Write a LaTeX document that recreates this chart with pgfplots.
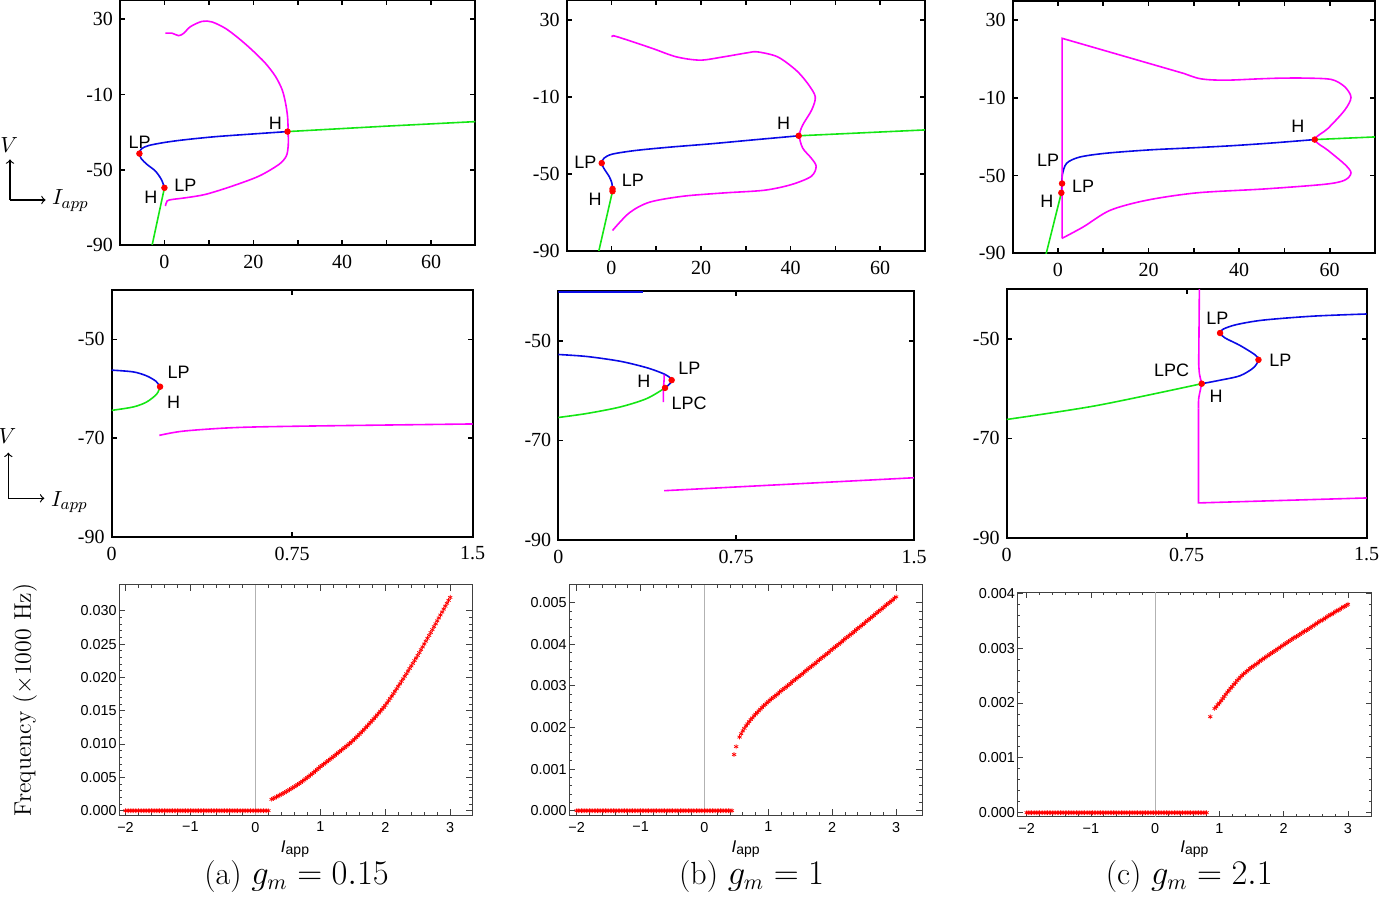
\documentclass[border=0pt]{standalone}
\usepackage{pgfplots}
\pgfplotsset{compat=1.18}
\usepackage{fontspec}
\newfontfamily\timesfont{Liberation Serif}
\newfontfamily\arialfont{Liberation Sans}
\definecolor{mygreen}{RGB}{20,230,20}
\definecolor{myblue}{RGB}{10,10,230}
\definecolor{mymag}{RGB}{255,0,255}
\pgfplotsset{
  bifbase/.style={
    scale only axis, anchor=south west,
    axis line style={line width=1pt},
    tick style={black, line width=0.8pt},
    tick align=inside, major tick length=2.5pt,
    ticklabel style={font=\timesfont\fontsize{10}{12}\selectfont},
    xticklabel style={yshift=-1.5pt},
  },
  toprow/.style={bifbase, xmin=-10, xmax=70, ymin=-90, ymax=40,
    xtick={0,10,20,30,40,50,60}, xticklabels={0,,20,,40,,60},
    ytick={-90,-50,-10,30}, yticklabels={-90,-50,-10,30}},
  midrow/.style={bifbase, xmin=0, xmax=1.5, ymin=-90, ymax=-40,
    xtick={0,0.75,1.5}, xticklabels={0,0.75,1.5},
    ytick={-90,-70,-50}, yticklabels={-90,-70,-50}},
  freq/.style={scale only axis, anchor=south west,
    axis line style={line width=0.5pt, black!75},
    tick style={black!75, line width=0.4pt},
    tick align=inside, major tick length=3pt, minor tick length=1.5pt,
    ticklabel style={font=\arialfont\fontsize{7.2}{8.5}\selectfont},
    yticklabel style={inner sep=1pt},
    xtick={-2,-1,0,1,2,3}, xticklabels={−2,−1,0,1,2,3},
    minor x tick num=4, minor y tick num=4,
    scaled y ticks=false,
    extra x ticks={0}, extra x tick labels={},
    extra x tick style={grid=major, major tick length=0pt},
    major grid style={gray!60, line width=0.6pt},
  },
  bl/.style={myblue, line width=0.8pt},
  gr/.style={mygreen, line width=0.8pt},
  mg/.style={mymag, line width=0.8pt},
  dots/.style={only marks, mark=*, mark size=1.4pt, red},
  stars/.style={only marks, mark=asterisk, mark size=1.2pt, red, mark options={line width=0.35pt}},
}
\newcommand{\lab}{\arialfont\fontsize{9}{10}\selectfont}
\begin{document}
\begin{tikzpicture}
\useasboundingbox (0,0) rectangle (691pt,-448.5pt);
% ---------------- top row ----------------
\begin{axis}[toprow, at={(60pt,-122.5pt)}, width=177.75pt, height=122.25pt]
\addplot[gr] coordinates {(-2.9,-91.5) (0,-59.6)};
\addplot[bl, smooth] coordinates {(0,-59.6) (-0.68,-55.2) (-2.03,-50.7) (-3.9,-47.2) (-5.18,-44.2) (-5.63,-41.4) (-5.18,-38.9) (-3.53,-37.1) (0.23,-35.4) (4.73,-34.0) (11.5,-32.4) (19.7,-31.0) (27.7,-29.7)};
\addplot[gr] coordinates {(27.7,-29.7) (50,-26.8) (70,-24.4)};
\addplot[mg, smooth] coordinates {(0.23,22.6) (1.73,22.6) (3.2,21.3) (4.35,22.6) (5.86,26.1) (8.48,28.9) (10.7,28.6) (13.7,25.2) (16.7,19.9) (19.7,13.7) (22.7,6.7) (25.0,-0.4) (26.5,-7.5) (27.25,-14.5) (27.7,-21.6) (27.85,-29.7) (27.85,-37.5) (27.4,-42.8) (25.75,-47.2) (21.25,-53.4) (15.24,-58.7) (9.23,-63.1) (4.73,-64.9) (1.73,-65.8) (0.6,-66.6) (0.23,-69.3)};
\addplot[dots] coordinates {(-5.63,-41.4) (0,-59.6) (27.7,-29.7)};
\end{axis}
\begin{axis}[toprow, at={(283.35pt,-125.35pt)}, width=179.15pt, height=125.1pt]
\addplot[gr] coordinates {(-2.96,-91.5) (0.23,-59.1)};
\addplot[bl, smooth] coordinates {(0.23,-58.5) (0.08,-54.8) (-0.53,-51.4) (-1.65,-47.4) (-2.18,-44.5) (-1.65,-41.9) (0.23,-39.8) (5.5,-37.9) (13,-36.2) (22,-34.5) (31.8,-32.4) (41.8,-30.3)};
\addplot[gr] coordinates {(41.8,-30.3) (70.5,-27.2)};
\addplot[mg, smooth] coordinates {(0.23,21.0) (0.4,21.7) (3.23,19.7) (9.25,15.0) (14.5,10.7) (19.8,9.0) (25.0,10.7) (30.3,12.8) (32.6,13.3) (37.1,10.7) (41.2,3.8) (43.8,-3.1) (45.5,-10) (44.7,-16.9) (42.7,-24.7) (41.95,-30.3) (42.7,-36.7) (44.6,-41.9) (45.7,-46.2) (44.6,-51.4) (40.1,-55.7) (34.1,-58.6) (25.0,-60) (16.0,-61.7) (8.5,-64.8) (4.0,-70.3) (0.23,-79.5)};
\addplot[dots] coordinates {(-2.18,-44.5) (0.23,-57.9) (0.23,-59.1) (41.8,-30.3)};
\end{axis}
\begin{axis}[toprow, at={(506.35pt,-126.65pt)}, width=181.15pt, height=126.35pt]
\addplot[gr] coordinates {(-2.75,-91.5) (0.74,-58.9)};
\addplot[bl, smooth] coordinates {(0.74,-58.9) (0.9,-54) (0.95,-49.7) (1.9,-43.7) (4.8,-40.5) (10.7,-38.5) (20.3,-36.8) (30,-35.7) (38.1,-34.7) (47,-33.3) (56.7,-31.5)};
\addplot[gr] coordinates {(56.7,-31.5) (70.4,-30.1)};
\addplot[mg] coordinates {(0.9,-82.3) (0.9,20.6) (27.8,2.5)};
\addplot[mg, smooth] coordinates {(27.8,2.5) (31,0.0) (34,-0.8) (38.1,-0.9) (44,-0.3) (49.3,0.1) (55,0.1) (60.4,-0.6) (63.3,-4.3) (64.7,-9.8) (63.3,-16.4) (59.6,-25.8) (56.7,-31.5) (59.6,-37) (63.3,-44.2) (64.7,-48.6) (63.3,-52.4) (58.9,-54.5) (45.6,-56.9) (30.7,-58.9) (19.6,-62.7) (11.5,-67.9) (5.6,-76.4) (0.9,-82.3)};
\addplot[dots] coordinates {(0.9,-54.1) (0.74,-58.9) (56.7,-31.5)};
\end{axis}
% ---------------- middle row ----------------
\begin{axis}[midrow, at={(55.85pt,-268.35pt)}, width=180.5pt, height=123.35pt]
\addplot[bl, smooth] coordinates {(0,-56.24) (0.09,-56.6) (0.145,-57.4) (0.184,-58.5) (0.201,-59.6)};
\addplot[gr, smooth] coordinates {(0,-64.4) (0.09,-63.7) (0.145,-62.7) (0.187,-61.1) (0.201,-59.6)};
\addplot[mg, smooth] coordinates {(0.198,-69.46) (0.298,-68.6) (0.506,-67.9) (0.783,-67.6) (1.5,-67.15)};
\addplot[dots] coordinates {(0.201,-59.6)};
\end{axis}
\begin{axis}[midrow, at={(279.15pt,-270pt)}, width=177.85pt, height=124.5pt]
\addplot[bl] coordinates {(0,-40.15) (0.359,-40.15)};
\addplot[bl, smooth] coordinates {(0,-52.75) (0.12,-53.15) (0.26,-54.1) (0.373,-55.4) (0.443,-56.6) (0.471,-57.4) (0.478,-57.9) (0.471,-58.6) (0.45,-59.46)};
\addplot[gr, smooth] coordinates {(0,-65.4) (0.12,-64.6) (0.26,-63.3) (0.373,-61.6) (0.45,-59.46)};
\addplot[mg, smooth] coordinates {(0.446,-56.8) (0.446,-57.9) (0.443,-59.9) (0.443,-62.3)};
\addplot[mg] coordinates {(0.446,-80.1) (1.5,-77.5)};
\addplot[dots] coordinates {(0.478,-57.9) (0.45,-59.46)};
\end{axis}
\begin{axis}[midrow, at={(503.35pt,-268.85pt)}, width=180pt, height=124.2pt]
\addplot[gr, smooth] coordinates {(0,-66.2) (0.375,-63.4) (0.8125,-59.0)};
\addplot[bl, smooth] coordinates {(0.8125,-59.0) (0.889,-58.3) (0.972,-57.4) (1.028,-55.8) (1.049,-54.2) (1.035,-53.2) (0.972,-51.3) (0.91,-49.8) (0.889,-48.8) (0.903,-48.0) (0.958,-47.1) (1.069,-46.2) (1.278,-45.4) (1.5,-44.97)};
\addplot[mg] coordinates {(0.803,-39) (0.8,-55)};
\addplot[mg, smooth] coordinates {(0.8,-55) (0.803,-57) (0.81,-58.5) (0.812,-59) (0.808,-60) (0.8,-62) (0.799,-64)};
\addplot[mg] coordinates {(0.799,-64) (0.799,-83) (1.5,-82)};
\addplot[dots] coordinates {(0.8125,-59.0) (1.049,-54.2) (0.889,-48.8)};
\end{axis}
% ---------------- bottom row ----------------
\begin{axis}[freq, at={(59.5pt,-407.5pt)}, width=176.65pt, height=115pt,
  xmin=-2.10, xmax=3.34, ymin=-0.00065, ymax=0.03386,
  ytick={0,0.005,0.01,0.015,0.02,0.025,0.03},
  yticklabels={0.000,0.005,0.010,0.015,0.020,0.025,0.030}]
\addplot[stars] coordinates {(-2,0) (-1.975,0) (-1.95,0) (-1.925,0) (-1.9,0) (-1.875,0) (-1.85,0) (-1.825,0) (-1.8,0) (-1.775,0) (-1.75,0) (-1.725,0) (-1.7,0) (-1.675,0) (-1.65,0) (-1.625,0) (-1.6,0) (-1.575,0) (-1.55,0) (-1.525,0) (-1.5,0) (-1.475,0) (-1.45,0) (-1.425,0) (-1.4,0) (-1.375,0) (-1.35,0) (-1.325,0) (-1.3,0) (-1.275,0) (-1.25,0) (-1.225,0) (-1.2,0) (-1.175,0) (-1.15,0) (-1.125,0) (-1.1,0) (-1.075,0) (-1.05,0) (-1.025,0) (-1,0) (-0.975,0) (-0.95,0) (-0.925,0) (-0.9,0) (-0.875,0) (-0.85,0) (-0.825,0) (-0.8,0) (-0.775,0) (-0.75,0) (-0.725,0) (-0.7,0) (-0.675,0) (-0.65,0) (-0.625,0) (-0.6,0) (-0.575,0) (-0.55,0) (-0.525,0) (-0.5,0) (-0.475,0) (-0.45,0) (-0.425,0) (-0.4,0) (-0.375,0) (-0.35,0) (-0.325,0) (-0.3,0) (-0.275,0) (-0.25,0) (-0.225,0) (-0.2,0) (-0.175,0) (-0.15,0) (-0.125,0) (-0.1,0) (-0.075,0) (-0.05,0) (-0.025,0) (0,0) (0.025,0) (0.05,0) (0.075,0) (0.1,0) (0.125,0) (0.15,0) (0.175,0) (0.2,0)};
\addplot[stars] coordinates {(0.250,0.00170) (0.275,0.00182) (0.300,0.00195) (0.325,0.00207) (0.350,0.00220) (0.375,0.00233) (0.400,0.00246) (0.425,0.00259) (0.450,0.00272) (0.475,0.00286) (0.500,0.00300) (0.525,0.00315) (0.550,0.00330) (0.575,0.00345) (0.600,0.00360) (0.625,0.00375) (0.650,0.00391) (0.675,0.00407) (0.700,0.00424) (0.725,0.00442) (0.750,0.00460) (0.775,0.00479) (0.800,0.00498) (0.825,0.00517) (0.850,0.00536) (0.875,0.00555) (0.900,0.00575) (0.925,0.00596) (0.950,0.00617) (0.975,0.00638) (1.000,0.00660) (1.025,0.00678) (1.050,0.00697) (1.075,0.00715) (1.100,0.00734) (1.125,0.00753) (1.150,0.00772) (1.175,0.00791) (1.200,0.00810) (1.225,0.00830) (1.250,0.00850) (1.275,0.00869) (1.300,0.00889) (1.325,0.00908) (1.350,0.00928) (1.375,0.00947) (1.400,0.00967) (1.425,0.00987) (1.450,0.01007) (1.475,0.01028) (1.500,0.01050) (1.525,0.01073) (1.550,0.01097) (1.575,0.01121) (1.600,0.01145) (1.625,0.01170) (1.650,0.01195) (1.675,0.01221) (1.700,0.01247) (1.725,0.01273) (1.750,0.01300) (1.775,0.01327) (1.800,0.01354) (1.825,0.01381) (1.850,0.01409) (1.875,0.01436) (1.900,0.01464) (1.925,0.01492) (1.950,0.01521) (1.975,0.01550) (2.000,0.01580) (2.025,0.01615) (2.050,0.01650) (2.075,0.01685) (2.100,0.01720) (2.125,0.01756) (2.150,0.01792) (2.175,0.01829) (2.200,0.01866) (2.225,0.01903) (2.250,0.01940) (2.275,0.01978) (2.300,0.02017) (2.325,0.02055) (2.350,0.02094) (2.375,0.02133) (2.400,0.02172) (2.425,0.02211) (2.450,0.02251) (2.475,0.02290) (2.500,0.02330) (2.525,0.02372) (2.550,0.02415) (2.575,0.02457) (2.600,0.02500) (2.625,0.02543) (2.650,0.02586) (2.675,0.02629) (2.700,0.02672) (2.725,0.02716) (2.750,0.02760) (2.775,0.02804) (2.800,0.02848) (2.825,0.02892) (2.850,0.02936) (2.875,0.02980) (2.900,0.03024) (2.925,0.03068) (2.950,0.03112) (2.975,0.03156) (3.000,0.03200)};
\end{axis}
\begin{axis}[freq, at={(284.5pt,-407.5pt)}, width=176.65pt, height=115pt,
  xmin=-2.12, xmax=3.41, ymin=-0.000103, ymax=0.005425,
  ytick={0,0.001,0.002,0.003,0.004,0.005},
  yticklabels={0.000,0.001,0.002,0.003,0.004,0.005}]
\addplot[stars] coordinates {(-2,0) (-1.975,0) (-1.95,0) (-1.925,0) (-1.9,0) (-1.875,0) (-1.85,0) (-1.825,0) (-1.8,0) (-1.775,0) (-1.75,0) (-1.725,0) (-1.7,0) (-1.675,0) (-1.65,0) (-1.625,0) (-1.6,0) (-1.575,0) (-1.55,0) (-1.525,0) (-1.5,0) (-1.475,0) (-1.45,0) (-1.425,0) (-1.4,0) (-1.375,0) (-1.35,0) (-1.325,0) (-1.3,0) (-1.275,0) (-1.25,0) (-1.225,0) (-1.2,0) (-1.175,0) (-1.15,0) (-1.125,0) (-1.1,0) (-1.075,0) (-1.05,0) (-1.025,0) (-1,0) (-0.975,0) (-0.95,0) (-0.925,0) (-0.9,0) (-0.875,0) (-0.85,0) (-0.825,0) (-0.8,0) (-0.775,0) (-0.75,0) (-0.725,0) (-0.7,0) (-0.675,0) (-0.65,0) (-0.625,0) (-0.6,0) (-0.575,0) (-0.55,0) (-0.525,0) (-0.5,0) (-0.475,0) (-0.45,0) (-0.425,0) (-0.4,0) (-0.375,0) (-0.35,0) (-0.325,0) (-0.3,0) (-0.275,0) (-0.25,0) (-0.225,0) (-0.2,0) (-0.175,0) (-0.15,0) (-0.125,0) (-0.1,0) (-0.075,0) (-0.05,0) (-0.025,0) (0,0) (0.025,0) (0.05,0) (0.075,0) (0.1,0) (0.125,0) (0.15,0) (0.175,0) (0.2,0) (0.225,0) (0.25,0) (0.275,0) (0.3,0) (0.325,0) (0.35,0) (0.375,0) (0.4,0) (0.43,0)};
\addplot[stars] coordinates {(0.464,0.00135) (0.496,0.00154) (0.550,0.00177) (0.575,0.00185) (0.600,0.00192) (0.625,0.00198) (0.650,0.00204) (0.675,0.00209) (0.700,0.00214) (0.725,0.00219) (0.750,0.00223) (0.775,0.00228) (0.800,0.00232) (0.825,0.00236) (0.850,0.00240) (0.875,0.00244) (0.900,0.00248) (0.925,0.00252) (0.950,0.00255) (0.975,0.00259) (1.000,0.00262) (1.025,0.00266) (1.050,0.00269) (1.075,0.00272) (1.100,0.00275) (1.125,0.00278) (1.150,0.00281) (1.175,0.00285) (1.200,0.00288) (1.225,0.00291) (1.250,0.00294) (1.275,0.00297) (1.300,0.00300) (1.325,0.00303) (1.350,0.00306) (1.375,0.00310) (1.400,0.00313) (1.425,0.00316) (1.450,0.00319) (1.475,0.00322) (1.500,0.00325) (1.525,0.00328) (1.550,0.00331) (1.575,0.00335) (1.600,0.00338) (1.625,0.00341) (1.650,0.00344) (1.675,0.00347) (1.700,0.00350) (1.725,0.00353) (1.750,0.00356) (1.775,0.00360) (1.800,0.00363) (1.825,0.00366) (1.850,0.00369) (1.875,0.00372) (1.900,0.00375) (1.925,0.00378) (1.950,0.00381) (1.975,0.00385) (2.000,0.00388) (2.025,0.00391) (2.050,0.00394) (2.075,0.00397) (2.100,0.00400) (2.125,0.00403) (2.150,0.00406) (2.175,0.00410) (2.200,0.00413) (2.225,0.00416) (2.250,0.00419) (2.275,0.00422) (2.300,0.00425) (2.325,0.00428) (2.350,0.00431) (2.375,0.00435) (2.400,0.00438) (2.425,0.00441) (2.450,0.00444) (2.475,0.00447) (2.500,0.00450) (2.525,0.00454) (2.550,0.00457) (2.575,0.00460) (2.600,0.00463) (2.625,0.00466) (2.650,0.00469) (2.675,0.00473) (2.700,0.00476) (2.725,0.00479) (2.750,0.00482) (2.775,0.00485) (2.800,0.00488) (2.825,0.00492) (2.850,0.00495) (2.875,0.00498) (2.900,0.00501) (2.925,0.00504) (2.950,0.00507) (2.975,0.00511) (3.000,0.00514)};
\end{axis}
\begin{axis}[freq, at={(508.65pt,-408.35pt)}, width=177.2pt, height=112.2pt,
  xmin=-2.146, xmax=3.37, ymin=-0.000073, ymax=0.004018,
  ytick={0,0.001,0.002,0.003,0.004},
  yticklabels={0.000,0.001,0.002,0.003,0.004}]
\addplot[stars] coordinates {(-2,0) (-1.975,0) (-1.95,0) (-1.925,0) (-1.9,0) (-1.875,0) (-1.85,0) (-1.825,0) (-1.8,0) (-1.775,0) (-1.75,0) (-1.725,0) (-1.7,0) (-1.675,0) (-1.65,0) (-1.625,0) (-1.6,0) (-1.575,0) (-1.55,0) (-1.525,0) (-1.5,0) (-1.475,0) (-1.45,0) (-1.425,0) (-1.4,0) (-1.375,0) (-1.35,0) (-1.325,0) (-1.3,0) (-1.275,0) (-1.25,0) (-1.225,0) (-1.2,0) (-1.175,0) (-1.15,0) (-1.125,0) (-1.1,0) (-1.075,0) (-1.05,0) (-1.025,0) (-1,0) (-0.975,0) (-0.95,0) (-0.925,0) (-0.9,0) (-0.875,0) (-0.85,0) (-0.825,0) (-0.8,0) (-0.775,0) (-0.75,0) (-0.725,0) (-0.7,0) (-0.675,0) (-0.65,0) (-0.625,0) (-0.6,0) (-0.575,0) (-0.55,0) (-0.525,0) (-0.5,0) (-0.475,0) (-0.45,0) (-0.425,0) (-0.4,0) (-0.375,0) (-0.35,0) (-0.325,0) (-0.3,0) (-0.275,0) (-0.25,0) (-0.225,0) (-0.2,0) (-0.175,0) (-0.15,0) (-0.125,0) (-0.1,0) (-0.075,0) (-0.05,0) (-0.025,0) (0,0) (0.025,0) (0.05,0) (0.075,0) (0.1,0) (0.125,0) (0.15,0) (0.175,0) (0.2,0) (0.225,0) (0.25,0) (0.275,0) (0.3,0) (0.325,0) (0.35,0) (0.375,0) (0.4,0) (0.425,0) (0.45,0) (0.475,0) (0.5,0) (0.525,0) (0.55,0) (0.575,0) (0.6,0) (0.625,0) (0.65,0) (0.675,0) (0.7,0) (0.725,0) (0.75,0) (0.775,0) (0.8,0)};
\addplot[stars] coordinates {(0.857,0.00175) (0.925,0.00190) (0.950,0.00193) (0.975,0.00197) (1.000,0.00200) (1.025,0.00204) (1.050,0.00208) (1.075,0.00212) (1.100,0.00216) (1.125,0.00220) (1.150,0.00223) (1.175,0.00227) (1.200,0.00230) (1.225,0.00234) (1.250,0.00237) (1.275,0.00241) (1.300,0.00244) (1.325,0.00247) (1.350,0.00250) (1.375,0.00253) (1.400,0.00255) (1.425,0.00258) (1.450,0.00260) (1.475,0.00263) (1.500,0.00265) (1.525,0.00267) (1.550,0.00269) (1.575,0.00271) (1.600,0.00273) (1.625,0.00276) (1.650,0.00278) (1.675,0.00280) (1.700,0.00282) (1.725,0.00284) (1.750,0.00286) (1.775,0.00288) (1.800,0.00290) (1.825,0.00292) (1.850,0.00294) (1.875,0.00296) (1.900,0.00298) (1.925,0.00300) (1.950,0.00302) (1.975,0.00304) (2.000,0.00306) (2.025,0.00308) (2.050,0.00310) (2.075,0.00312) (2.100,0.00314) (2.125,0.00316) (2.150,0.00318) (2.175,0.00320) (2.200,0.00321) (2.225,0.00323) (2.250,0.00325) (2.275,0.00327) (2.300,0.00329) (2.325,0.00331) (2.350,0.00332) (2.375,0.00334) (2.400,0.00336) (2.425,0.00338) (2.450,0.00340) (2.475,0.00342) (2.500,0.00344) (2.525,0.00346) (2.550,0.00348) (2.575,0.00350) (2.600,0.00351) (2.625,0.00353) (2.650,0.00355) (2.675,0.00357) (2.700,0.00359) (2.725,0.00361) (2.750,0.00362) (2.775,0.00364) (2.800,0.00366) (2.825,0.00368) (2.850,0.00369) (2.875,0.00371) (2.900,0.00373) (2.925,0.00375) (2.950,0.00376) (2.975,0.00378) (3.000,0.00380)};
\end{axis}
% ---------------- labels ----------------
\begin{scope}[every node/.style={inner sep=0pt, font=\lab}]
\node at (69.8pt,-71.2pt) {LP};
\node at (92.7pt,-92.5pt) {LP};
\node at (75.4pt,-98.7pt) {H};
\node at (137.7pt,-61.7pt) {H};
\node at (292.7pt,-81.2pt) {LP};
\node at (316.4pt,-90.2pt) {LP};
\node at (297.5pt,-99.6pt) {H};
\node at (391.8pt,-61.5pt) {H};
\node at (524pt,-80pt) {LP};
\node at (541.5pt,-93.3pt) {LP};
\node at (523.4pt,-100.6pt) {H};
\node at (648.9pt,-63.3pt) {H};
\node at (89.3pt,-186.3pt) {LP};
\node at (86.8pt,-201.2pt) {H};
\node at (344.7pt,-184.2pt) {LP};
\node at (321.9pt,-190.7pt) {H};
\node at (344.6pt,-201.7pt) {LPC};
\node at (608.7pt,-159.2pt) {LP};
\node at (640.2pt,-180.3pt) {LP};
\node at (585.8pt,-185pt) {LPC};
\node at (608.1pt,-198.3pt) {H};
\end{scope}
% V / I_app indicators
\draw[line width=0.6pt, ->] (5pt,-100pt) -- (5pt,-79.7pt);
\draw[line width=0.6pt, ->] (5pt,-100pt) -- (22.8pt,-100pt);
\node[inner sep=0pt, font=\fontsize{11}{13}\selectfont] at (4.6pt,-72.5pt) {$V$};
\node[inner sep=0pt, anchor=base west, font=\fontsize{11}{13}\selectfont] at (25.8pt,-102.5pt) {$I_{app}$};
\draw[line width=0.6pt, ->] (4.15pt,-249.15pt) -- (4.15pt,-226.35pt);
\draw[line width=0.6pt, ->] (4.15pt,-249.15pt) -- (22.15pt,-249.15pt);
\node[inner sep=0pt, font=\fontsize{11}{13}\selectfont] at (3.75pt,-217.9pt) {$V$};
\node[inner sep=0pt, anchor=base west, font=\fontsize{11}{13}\selectfont] at (25.3pt,-253.3pt) {$I_{app}$};
% bottom labels
\node[rotate=90, inner sep=0pt, font=\fontsize{12}{14}\selectfont] at (12.5pt,-350pt) {Frequency $(\times 1000$ Hz$)$};
\foreach \xx in {147.5pt,372.8pt,597.2pt}{
  \node[anchor=base, inner sep=0pt] at (\xx,-426.3pt) {{\arialfont\itshape\fontsize{8.5}{10}\selectfont I}\raisebox{-1pt}{\arialfont\fontsize{7}{8}\selectfont app}};
}
\node[inner sep=0pt, font=\fontsize{16}{18}\selectfont] at (148.25pt,-438.3pt) {(a)~$g_m = 0.15$};
\node[inner sep=0pt, font=\fontsize{16}{18}\selectfont] at (375.8pt,-438.3pt) {(b)~$g_m = 1$};
\node[inner sep=0pt, font=\fontsize{16}{18}\selectfont] at (594.6pt,-438.3pt) {(c)~$g_m = 2.1$};
\end{tikzpicture}
\end{document}
